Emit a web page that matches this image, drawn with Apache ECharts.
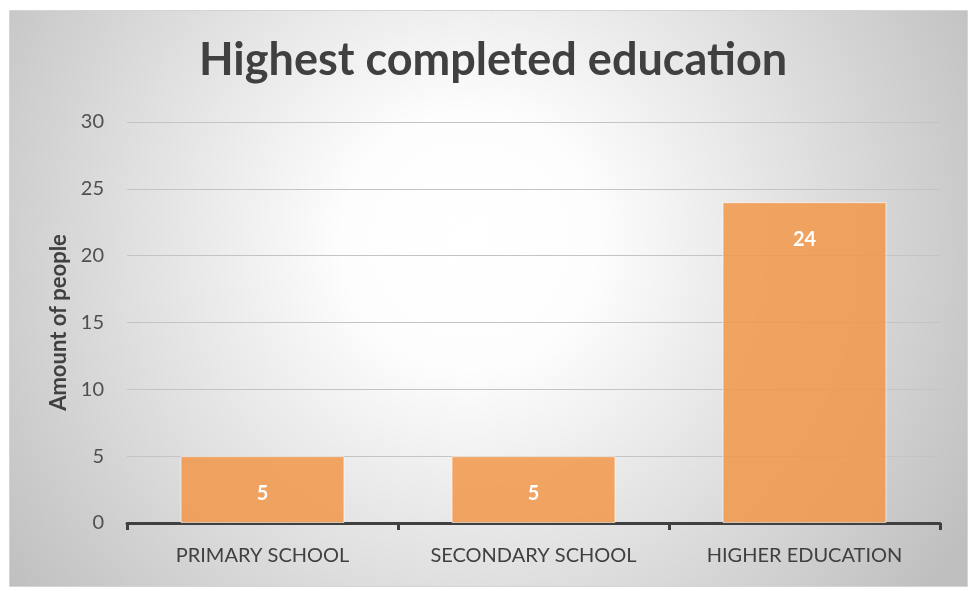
<!DOCTYPE html>
<html>
<head>
<meta charset="utf-8">
<script src="https://cdn.jsdelivr.net/npm/echarts@6/dist/echarts.min.js"></script>
<style>
  html, body { margin: 0; padding: 0; background: #ffffff; }
  #chart { width: 970px; height: 591px; }
</style>
</head>
<body>
<div id="chart"></div>
<script>
// Education levels and head counts
const categories = ['PRIMARY SCHOOL', 'SECONDARY SCHOOL', 'HIGHER EDUCATION'];
const peopleCounts = [5, 5, 24];
const yTicks = [0, 5, 10, 15, 20, 25, 30];

const chart = echarts.init(document.getElementById('chart'));
const fontFamily = 'Lato, "Open Sans", sans-serif';

chart.setOption({
  animation: false,
  graphic: [{
    type: 'rect',
    z: -10,
    silent: true,
    shape: { x: 9.5, y: 10.5, width: 958, height: 576 },
    style: {
      fill: {
        type: 'radial', x: 0.48, y: 0.4, r: 1.0,
        colorStops: [
          { offset: 0, color: '#ffffff' },
          { offset: 0.22, color: '#fdfdfd' },
          { offset: 1, color: '#bfbfbf' }
        ]
      },
      stroke: '#d4d4d4',
      lineWidth: 1
    }
  }],
  title: {
    text: 'Highest completed education',
    left: 194,
    top: 33,
    textStyle: { fontFamily, fontSize: 45, fontWeight: 'bold', color: '#404040' }
  },
  grid: { left: 127, right: 30, top: 122, bottom: 68 },
  xAxis: {
    type: 'category',
    data: categories,
    axisLine: { lineStyle: { color: '#404040', width: 3 } },
    axisTick: { show: true, length: 7, lineStyle: { color: '#404040', width: 3 } },
    axisLabel: { fontFamily, fontSize: 20, color: '#404040', margin: 23 }
  },
  yAxis: {
    type: 'value',
    min: yTicks[0],
    max: yTicks[yTicks.length - 1],
    interval: 5,
    name: 'Amount of people',
    nameLocation: 'middle',
    nameRotate: 90,
    nameGap: 55,
    nameTextStyle: { fontFamily, fontSize: 22, fontWeight: 'bold', color: '#404040' },
    axisLine: { show: false },
    axisTick: { show: false },
    axisLabel: { fontFamily, fontSize: 20, color: '#505050', margin: 23 },
    splitLine: { lineStyle: { color: '#c4c4c4', width: 1 } }
  },
  series: [{
    type: 'bar',
    data: peopleCounts,
    barWidth: '60.5%',
    itemStyle: {
      color: 'rgba(242,151,74,0.85)',
      borderColor: 'rgba(255,255,255,0.6)',
      borderWidth: 1
    },
    label: {
      show: true,
      position: 'insideTop',
      distance: 27,
      fontFamily,
      fontSize: 20,
      fontWeight: 'bold',
      color: '#ffffff'
    }
  }]
});
</script>
</body>
</html>
